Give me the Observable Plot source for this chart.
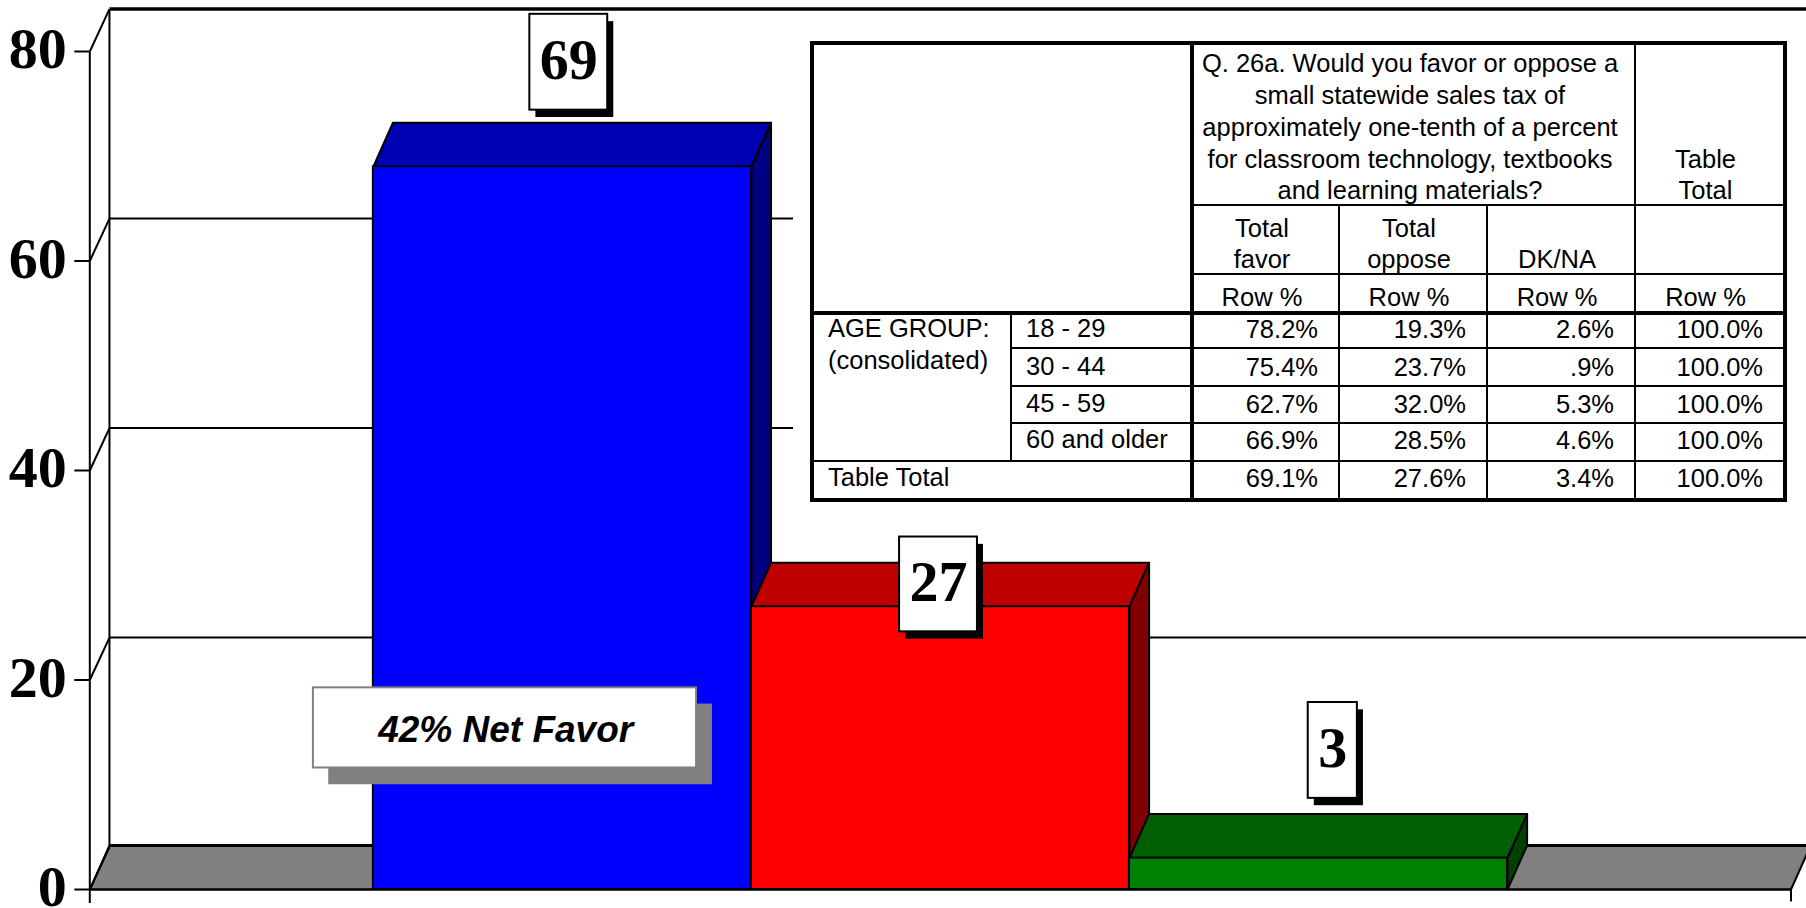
<!DOCTYPE html>
<html>
<head>
<meta charset="utf-8">
<script src="https://cdn.jsdelivr.net/npm/d3@7"></script>
<script src="https://cdn.jsdelivr.net/npm/@observablehq/plot@0.6"></script>
<style>
  html, body { margin: 0; padding: 0; background: #fff; overflow: hidden; }
  #chart { position: relative; width: 1806px; height: 908px; overflow: hidden; }
  #chart svg { display: block; }
  #tableBack { position: absolute; left: 793px; top: 22px; width: 1013px; height: 490px; background: #fff; }
  table { position: absolute; left: 810px; top: 41px; width: 975px; table-layout: fixed; border-collapse: collapse;
          font-family: "Liberation Sans", Arial, sans-serif; font-size: 25.5px; line-height: 31.7px; color: #000; border: 4px solid #000; }
  td { border: 2px solid #000; padding: 0; vertical-align: bottom; text-align: center; overflow: visible; white-space: nowrap; }
  td > span { position: relative; top: 3px; left: -4px; }
  td > span.up { top: -2px; left: 0; }
  .thickR { border-right: 4px solid #000; }
  .thickB { border-bottom: 4px solid #000; }
  .lbl { text-align: left; padding-left: 14px; vertical-align: top; line-height: 27px; }
  .group { line-height: 31.7px; }
  .num { text-align: right; padding-right: 20px; vertical-align: top; line-height: 27px; }
</style>
</head>
<body>
<div id="chart"></div>
<script>
// ---- chart data
const categories = ["Total favor", "Total oppose", "DK/NA"];
const values = [69, 27, 3];
const yTicks = [0, 20, 40, 60, 80];
const frontColors = ["#0000ff", "#ff0000", "#008000"];
const topColors = ["#0000b4", "#bf0000", "#005f00"];
const sideColors = ["#000080", "#800000", "#004000"];
const netFavorText = "42% Net Favor";

// ---- table data
const questionLines = [
  "Q. 26a. Would you favor or oppose a",
  "small statewide sales tax of",
  "approximately one-tenth of a percent",
  "for classroom technology, textbooks",
  "and learning materials?"
];
const columnHeads = [["Total", "favor"], ["Total", "oppose"], ["DK/NA"], [""]];
const rowLabels = ["18 - 29", "30 - 44", "45 - 59", "60 and older"];
const favor  = ["78.2%", "75.4%", "62.7%", "66.9%", "69.1%"];
const oppose = ["19.3%", "23.7%", "32.0%", "28.5%", "27.6%"];
const dkna   = ["2.6%", ".9%", "5.3%", "4.6%", "3.4%"];
const total  = ["100.0%", "100.0%", "100.0%", "100.0%", "100.0%"];

// ---- pseudo-3D depth, in the units of the x and y scales
const depthX = 0.052;
const depthY = 4.2;
const wallDepthY = 4.05;
const xMin = -0.75, xMax = 3.75;

const line = {stroke: "#000", strokeWidth: 2};
const poly = (pts, fill) => Plot.line(pts.map(([x, y]) => ({x, y})), {x: "x", y: "y", curve: "linear-closed", fill, ...line});
const seg = (x1, y1, x2, y2, strokeWidth = 2) =>
  Plot.link([0], {x1: () => x1, y1: () => y1, x2: () => x2, y2: () => y2, stroke: "#000", strokeWidth, strokeLinecap: "butt"});

const barMarks = values.flatMap((v, i) => [
  poly([[i, v], [i + depthX, v + depthY], [i + 1 + depthX, v + depthY], [i + 1, v]], topColors[i]),
  poly([[i + 1, 0], [i + 1 + depthX, depthY], [i + 1 + depthX, v + depthY], [i + 1, v]], sideColors[i]),
  Plot.rect([{x1: i, x2: i + 1, y1: 0, y2: v}], {x1: "x1", x2: "x2", y1: "y1", y2: "y2", fill: frontColors[i], ...line, inset: 0})
]);

// value callouts: box extents are given relative to each bar's slot
const callouts = [
  {text: "69", cx: 0.517, w: 0.206, y1: 74.4, y2: 83.55},
  {text: "27", cx: 1.495, w: 0.206, y1: 24.6, y2: 33.65},
  {text: "3",  cx: 2.538, w: 0.13,  y1: 8.7,  y2: 17.85}
].map((c, i) => ({...c, value: values[i]}));
const shadowX = 0.016, shadowY = 0.7;

const plot = Plot.plot({
  width: 1806,
  height: 908,
  marginLeft: 89.3,
  marginRight: 15.5,
  marginTop: 51,
  marginBottom: 19,
  x: {domain: [xMin, xMax], axis: null},
  y: {domain: [0, 80], axis: null},
  style: {background: "#fff", fontFamily: '"Liberation Serif", "Times New Roman", serif', overflow: "hidden"},
  marks: [
    // floor
    poly([[xMin, 0], [xMin + depthX, depthY], [xMax + depthX, depthY], [xMax, 0]], "#808080"),
    // back wall grid
    ...yTicks.slice(1, 4).map(t => seg(xMin + depthX, t + wallDepthY, xMax + depthX, t + wallDepthY)),
    seg(xMin + depthX, 80 + wallDepthY, xMax + depthX, 80 + wallDepthY, 3.5),
    seg(xMin + depthX, depthY, xMax + depthX, depthY, 3),
    // wall verticals and diagonals
    seg(xMin + depthX, depthY, xMin + depthX, 80 + wallDepthY),
    seg(xMin, -1.3, xMin, 80),
    ...yTicks.map(t => seg(xMin, t, xMin + depthX, t + wallDepthY)),
    seg(xMax, -1.15, xMax, 0),
    // bars
    ...barMarks,
    // front baseline
    seg(xMin, 0, xMax, 0),
    // y axis: ticks, then labels
    Plot.axisY({ticks: yTicks, anchor: "left", tickSize: 15, strokeWidth: 2, stroke: "#000", text: null, label: null}),
    Plot.axisY({
      ticks: yTicks, anchor: "left", tickSize: 0, tickPadding: 23, dy: -2,
      fontSize: 58, fontWeight: "bold", label: null, fill: "#000"
    }),
    // net favor callout
    Plot.rect([0], {x1: () => -0.118, x2: () => 0.897, y1: () => 10.0, y2: () => 17.7, fill: "#808080"}),
    Plot.rect([0], {x1: () => -0.1585, x2: () => 0.855, y1: () => 11.6, y2: () => 19.25, fill: "#fff", stroke: "#808080", strokeWidth: 2}),
    Plot.text([netFavorText], {
      x: () => 0.35, y: () => 15.2, text: d => d, fontSize: 37, fontWeight: "bold", fontStyle: "italic",
      fontFamily: '"Liberation Sans", Arial, sans-serif', fill: "#000"
    }),
    // value callouts
    Plot.rect(callouts, {
      x1: d => d.cx - d.w / 2 + shadowX, x2: d => d.cx + d.w / 2 + shadowX,
      y1: d => d.y1 - shadowY, y2: d => d.y2 - shadowY, fill: "#000"
    }),
    Plot.rect(callouts, {
      x1: d => d.cx - d.w / 2, x2: d => d.cx + d.w / 2, y1: "y1", y2: "y2",
      fill: "#fff", stroke: "#000", strokeWidth: 2
    }),
    Plot.text(callouts, {
      x: "cx", y: d => (d.y1 + d.y2) / 2, text: "text", fontSize: 58, fontWeight: "bold", fill: "#000", dy: -2
    })
  ]
});

const chart = document.getElementById("chart");
chart.appendChild(plot);

// ---- table, built from the arrays above
const back = document.createElement("div");
back.id = "tableBack";
chart.appendChild(back);

const colWidths = [199, 181, 147, 148, 148, 150];
const headCells = columnHeads.map(h => `<td><span>${h.join("<br>")}</span></td>`).join("");
const rowPct = columnHeads.map(() => `<td class="thickB"><span>Row %</span></td>`).join("");
const rowTops = [1, 5, 4, 3, 3];
const numCells = i => [favor, oppose, dkna, total].map(c => `<td class="num" style="padding-top:${rowTops[i]}px">${c[i]}</td>`).join("");
const rowHeights = [35, 38, 37, 38];

chart.insertAdjacentHTML("beforeend", `
<table>
  <colgroup>${colWidths.map(w => `<col style="width:${w}px">`).join("")}</colgroup>
  <tr style="height:162px">
    <td colspan="2" rowspan="3" class="thickB thickR"></td>
    <td colspan="3"><span>${questionLines.join("<br>")}</span></td>
    <td><span>Table<br>Total</span></td>
  </tr>
  <tr style="height:69px">${headCells}</tr>
  <tr style="height:39px">${rowPct}</tr>
  ${rowLabels.map((r, i) => `<tr style="height:${rowHeights[i]}px">
    ${i === 0 ? `<td rowspan="4" class="lbl group"><span class="up">AGE GROUP:<br>(consolidated)</span></td>` : ""}
    <td class="lbl thickR" style="padding-top:${rowTops[i]}px;"><span class="up" style="top:-1px">${r}</span></td>
    ${numCells(i)}
  </tr>`).join("")}
  <tr style="height:39px">
    <td colspan="2" class="lbl thickR" style="padding-top:${rowTops[4]}px"><span class="up" style="top:-1px">Table Total</span></td>
    ${numCells(4)}
  </tr>
</table>`);
</script>
</body>
</html>
